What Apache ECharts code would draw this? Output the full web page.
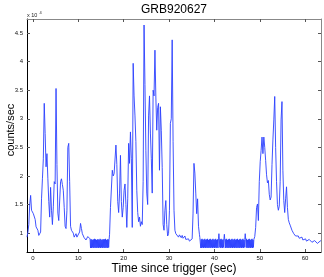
<!DOCTYPE html>
<html>
<head>
<meta charset="utf-8">
<script src="https://cdn.jsdelivr.net/npm/echarts@6/dist/echarts.min.js"></script>
<style>
html,body{margin:0;padding:0;background:#fff;}
#c{width:324px;height:277px;}
</style>
</head>
<body>
<div id="c"></div>
<script>
// counts/sec, in segments on regular time grids
// segment 1: t = -1.3 .. 12.5 s, step 0.2 s
const seg1Start = -1.3, seg1Step = 0.2;
const seg1Counts = [
  9300, 10200, 11500, 15000, 16600, 14000, 14200, 13400, 13500, 12400,
  11100, 11200, 10500, 9600, 9800, 10200, 16000, 19500, 23000, 32700,
  27400, 21600, 23900, 19500, 15500, 12800, 18000, 14000, 11500, 14600,
  19000, 18600, 35300, 22000, 13500, 12200, 12000, 19000, 19500, 18500,
  17500, 14500, 11200, 10800, 14000, 25000, 25700, 19000, 11200, 10500,
  10400, 10000, 9300, 9000, 9900, 9300, 9500, 9100, 10200, 11700,
  10800, 9900, 9600, 9200, 9400, 8800, 8700, 9400, 9500, 9100
];
// quiet interval A: t = 12.6 .. 16.8 s, step 0.1 s
const quietAStart = 12.6, quietAStep = 0.1;
const quietACounts = [
  9000,
  7400, 8900, 7400, 8900, 7500, 8800, 7400, 8900, 7500, 9000,
  7400, 8900, 7500, 8800, 7400, 8900, 7500, 8900, 7400, 8800,
  7500, 9000, 7400, 8900, 7500, 8800, 7400, 8900, 7500, 8900,
  7400, 8900, 7500, 9000, 7400, 8800, 7500, 8900, 7400, 8900,
  7500, 8900
];
// segment 2: t = 16.9 .. 36.7 s, step 0.2 s
const seg2Start = 16.9, seg2Step = 0.2;
const seg2Counts = [
  9800, 14500, 14600, 21000, 20000, 20400, 20500, 25400, 22000,
  15500, 13600, 17000, 23600, 15500, 12800, 14500, 17500, 18600, 15000,
  11000, 16000, 25700, 22200, 27700, 23000, 11000, 39700, 34000, 30500,
  26000, 17500, 13600, 12000, 12800, 11200, 12000, 11500, 19000, 46400,
  36000, 24500, 17000, 15000, 30500, 34000, 27500, 23000, 17000, 35000,
  34000, 42000, 33800, 28000, 32000, 32700, 21000, 32100, 28000, 21500,
  11500, 10500, 14000, 15700, 11500, 9500, 9900, 14000, 29200, 30000,
  43800, 26000, 14000, 10500, 9900, 10000, 9600, 9300, 9700, 9500,
  9200, 9600, 9100, 9300, 9500, 8900, 8700, 9200, 9000, 8600,
  8800, 8500, 9000, 13500, 22200, 20500, 17000, 13400, 16000, 11200,
  9800
];
// quiet interval B: t = 36.8 .. 48.8 s, step 0.1 s
const quietBStart = 36.8, quietBStep = 0.1;
const quietBCounts = [
  9200, 8900,
  7400, 8900, 7400, 9000, 7500, 8800, 7400, 8900, 7500, 9000,
  7400, 8800, 7500, 8900, 7400, 9000, 7500, 8800, 7400, 8900,
  7500, 9000, 7400, 8800, 7500, 8900, 7400, 9000, 7500, 8800,
  7400, 8900, 7500, 9000, 7400, 8800, 7500, 8900, 7400, 9000,
  9900, 8800, 7500, 8900, 7400, 9000, 7500, 8800, 7400, 8900,
  7500, 9000, 9800, 8800, 7400, 8900, 7500, 9000, 7400, 8800,
  7500, 8900, 7400, 9000, 7500, 8800, 7400, 8900, 7500, 9000,
  7400, 8800, 7500, 8900, 7400, 9000, 7500, 8800, 7400, 8900,
  7500, 9000, 7400, 8800, 7500, 8900, 7400, 9000, 7500, 8800,
  7400, 8900, 7500, 9000, 7400, 8800, 7500, 8900, 9900, 8900,
  7500, 9000, 7400, 8800, 7500, 8900, 7400, 9000, 7500, 8800,
  7400, 8900, 7500, 9000, 7400, 8800, 7500, 8900, 8900
];
// segment 3: t = 48.9 .. 63.5 s, step 0.2 s
const seg3Start = 48.9, seg3Step = 0.2;
const seg3Counts = [
  9400, 11000, 14500, 15100, 12200, 19000, 22500, 24500, 26800,
  23900, 26800, 25000, 22700, 20200, 18800, 19200, 16800, 15800, 16300,
  22000, 26300, 29800, 33900, 25000, 19000, 15000, 14000, 14700, 19000,
  29800, 33000, 21000, 15700, 13600, 16000, 18100, 14500, 12400, 11800,
  11400, 11200, 10500, 10600, 9900, 10000, 9500, 9700, 9300, 9500,
  9100, 9400, 9000, 9300, 8800, 9100, 8700, 9000, 8600, 8900,
  8500, 8900, 8600, 8800, 8400, 8700, 8300, 8700, 8400, 8600,
  8200, 8500, 8100, 8600, 8700
];
const xTickValues = [0, 10, 20, 30, 40, 50, 60];
const yTickValues = [10000, 15000, 20000, 25000, 30000, 35000, 40000, 45000];
const titleText = 'GRB920627';
const xName = 'Time since trigger (sec)';
const yName = 'counts/sec';

function toPairs(start, step, vals) {
  return vals.map((c, i) => [+(start + i * step).toFixed(2), c]);
}
const seriesData = [].concat(
  toPairs(seg1Start, seg1Step, seg1Counts),
  toPairs(quietAStart, quietAStep, quietACounts),
  toPairs(seg2Start, seg2Step, seg2Counts),
  toPairs(quietBStart, quietBStep, quietBCounts),
  toPairs(seg3Start, seg3Step, seg3Counts)
);

const X_MIN = -1.3, X_MAX = 63.5, Y_MIN = 6700, Y_MAX = 47450;
const FONT = '"Liberation Sans", Arial, Helvetica, sans-serif';
const tickLabelStyle = {fontFamily: FONT, fontSize: 6, color: '#111'};

function xAxisDef(pos, showLabels, lineColor) {
  return {
    type: 'value', position: pos, min: X_MIN, max: X_MAX,
    minInterval: 10, maxInterval: 10,
    axisLine: {show: true, onZero: false, lineStyle: {color: lineColor, width: 1}},
    axisTick: {show: true, inside: true, length: 3, lineStyle: {color: '#555', width: 1},
      customValues: xTickValues},
    axisLabel: {show: showLabels, margin: 3, interval: 0, hideOverlap: false,
      showMinLabel: true, showMaxLabel: true,
      customValues: xTickValues, ...tickLabelStyle},
    splitLine: {show: false}
  };
}
function yAxisDef(pos, showLabels, lineColor) {
  return {
    type: 'value', position: pos, min: Y_MIN, max: Y_MAX,
    minInterval: 5000, maxInterval: 5000,
    axisLine: {show: true, onZero: false, lineStyle: {color: lineColor, width: 1}},
    axisTick: {show: true, inside: true, length: 3, lineStyle: {color: '#555', width: 1},
      customValues: yTickValues},
    axisLabel: {show: showLabels, margin: 4, interval: 0, hideOverlap: false,
      showMinLabel: true, showMaxLabel: true,
      customValues: yTickValues, ...tickLabelStyle,
      formatter: v => String(v / 10000)},
    splitLine: {show: false}
  };
}

const chart = echarts.init(document.getElementById('c'), null, {renderer: 'canvas'});
chart.setOption({
  animation: false,
  backgroundColor: '#fff',
  grid: {left: 27, right: 3, top: 19, bottom: 25, containLabel: false},
  xAxis: [xAxisDef('bottom', true, '#000'), xAxisDef('top', false, '#888')],
  yAxis: [yAxisDef('left', true, '#000'), yAxisDef('right', false, '#888')],
  series: [{
    type: 'line', xAxisIndex: 0, yAxisIndex: 0,
    data: seriesData, showSymbol: false, symbol: 'none',
    sampling: null, silent: true,
    lineStyle: {color: '#2a40ff', width: 0.9}
  }],
  graphic: [
    {type: 'text', x: 174, y: 10, style: {text: titleText, font: '12px ' + FONT, fill: '#000', textAlign: 'center', textVerticalAlign: 'middle'}},
    {type: 'text', x: 174, y: 269, style: {text: xName, font: '12px ' + FONT, fill: '#000', textAlign: 'center', textVerticalAlign: 'middle'}},
    {type: 'text', x: 11, y: 130, rotation: Math.PI / 2, style: {text: yName, font: '11px ' + FONT, fill: '#000', textAlign: 'center', textVerticalAlign: 'middle'}},
    {type: 'text', x: 27, y: 15, style: {text: 'x 10', font: '5.5px ' + FONT, fill: '#222', textAlign: 'left', textVerticalAlign: 'middle'}},
    {type: 'text', x: 39.5, y: 12.5, style: {text: '4', font: '4px ' + FONT, fill: '#222', textAlign: 'left', textVerticalAlign: 'middle'}}
  ]
});
</script>
</body>
</html>
